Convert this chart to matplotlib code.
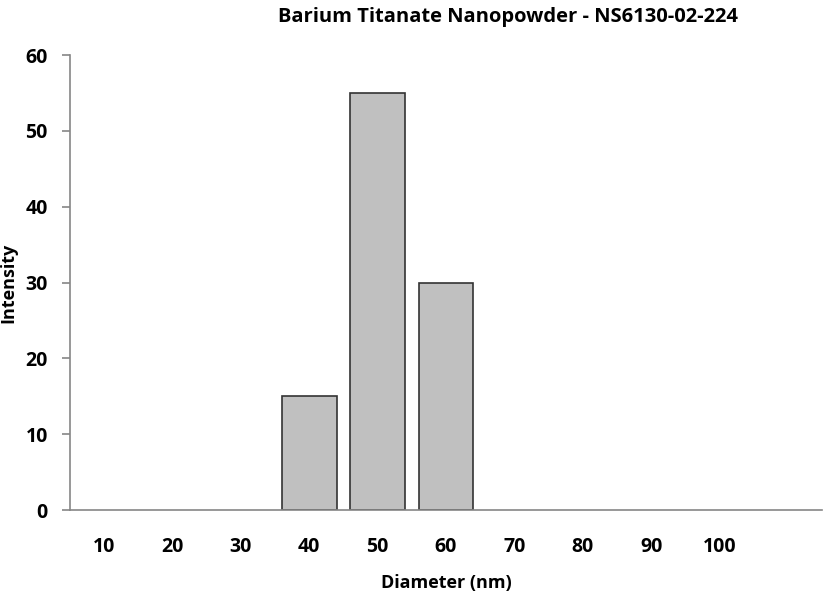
import matplotlib
matplotlib.use("Agg")
import matplotlib.pyplot as plt

plt.rcParams["font.family"] = ["Open Sans", "DejaVu Sans"]
plt.rcParams["font.weight"] = "bold"

# data
diameters = ["10", "20", "30", "40", "50", "60", "70", "80", "90", "100", ""]
intensity = [0, 0, 0, 15, 55, 30, 0, 0, 0, 0, 0]

fig = plt.figure(figsize=(8.36, 5.95), dpi=100)
ax = fig.add_axes([70 / 836, 85 / 595, 752 / 836, 455 / 595])

x = range(len(diameters))
# zero-height bars get no outline, like the original
widths = [1.2 if v > 0 else 0 for v in intensity]
ax.bar(x, intensity, width=0.8, color="#c0c0c0", edgecolor="#333333", linewidth=widths)

ax.set_xlim(-0.5, len(diameters) - 0.5)
ax.set_ylim(0, 60)
ax.set_yticks(range(0, 61, 10))
ax.set_xticks(list(x))
ax.set_xticklabels(diameters)

for side in ["top", "right"]:
    ax.spines[side].set_visible(False)
for side in ["left", "bottom"]:
    ax.spines[side].set_color("#868686")
    ax.spines[side].set_linewidth(1.2)
    ax.spines[side].set_zorder(3)

ax.tick_params(axis="y", direction="out", length=6, width=1.2, color="#868686",
               labelsize=14, pad=10)
ax.tick_params(axis="x", length=0, labelsize=14, pad=19.5)

ax.set_xlabel("Diameter (nm)", fontsize=13, fontweight="bold", labelpad=12)
fig.text(8 / 836, 1 - 283 / 595, "Intensity", rotation=90, ha="center", va="center",
         fontsize=13, fontweight="bold")
fig.text(508 / 836, 1 - 17 / 595, "Barium Titanate Nanopowder - NS6130-02-224",
         ha="center", va="center", fontsize=14.5, fontweight="bold")

fig.savefig("out.png", dpi=100)
